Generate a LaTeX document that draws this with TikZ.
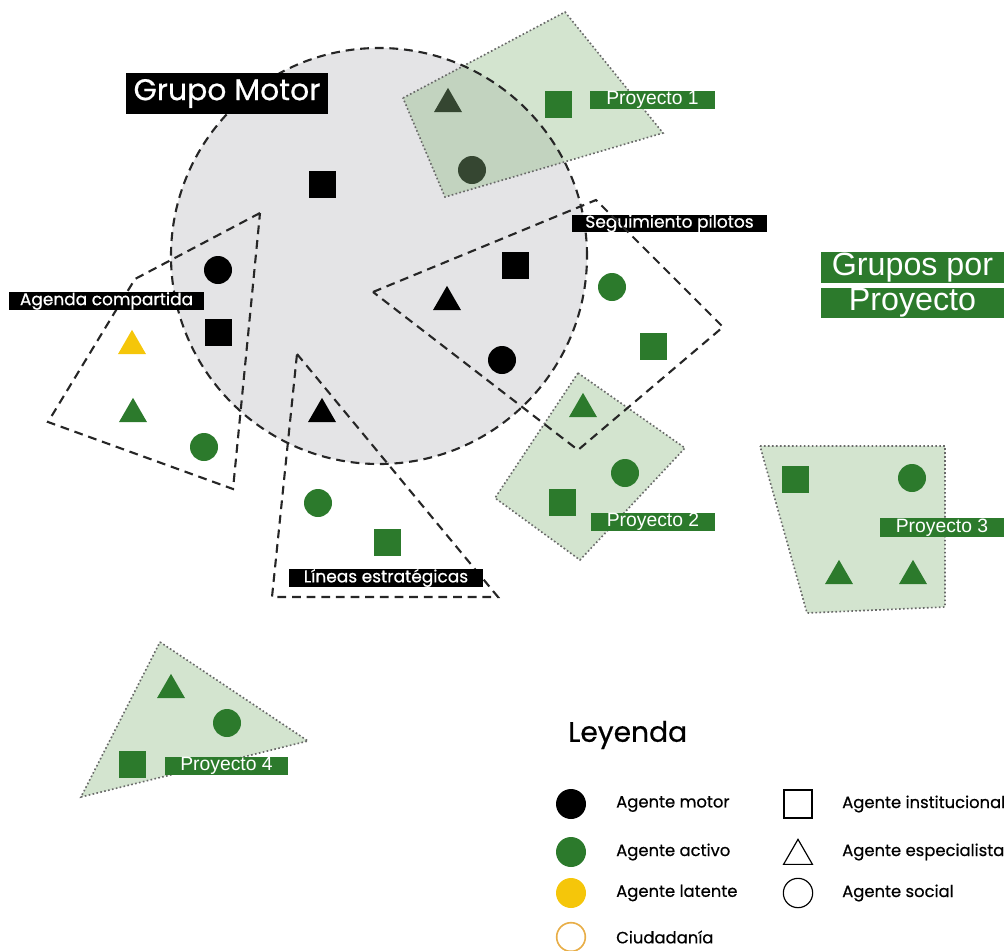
\documentclass[tikz,border=0pt]{standalone}
\usepackage{fontspec}
\setmainfont{Poppins}[FakeBold=0.6]
\newfontfamily\arialfont{Liberation Sans}
\usetikzlibrary{shapes.geometric}

\definecolor{gmgray}{RGB}{228,228,230}
\definecolor{activo}{RGB}{44,122,44}
\definecolor{latente}{RGB}{245,198,10}
\definecolor{ciudad}{RGB}{232,174,72}
\definecolor{proyfill}{RGB}{140,185,130}
\definecolor{puntos}{RGB}{105,105,105}

\tikzset{
  agente/.style={inner sep=0pt, outer sep=0pt, draw=none},
  cuad/.style={agente, rectangle, minimum size=0.81cm},
  circ/.style={agente, circle, minimum size=0.84cm},
  trian/.style={agente, regular polygon, regular polygon sides=3, minimum size=0.97cm},
  grupo/.style={draw=black!85, line width=1.8pt, dash pattern=on 7.5pt off 5pt, line join=miter},
  proy/.style={fill=proyfill, fill opacity=0.38, draw=puntos, line width=1.4pt, dash pattern=on 1.4pt off 2pt},
  lblk/.style={fill=black, text=white, inner sep=0pt, font=\fontsize{14.5}{14.5}\selectfont},
  lver/.style={fill=activo, text=white, inner sep=0pt, font=\arialfont\fontsize{16.5}{16.5}\selectfont},
  leyt/.style={anchor=west, inner sep=0pt, font=\fontsize{14}{14}\selectfont}
}

\begin{document}
\begin{tikzpicture}[x=0.03cm, y=-0.03cm]
\useasboundingbox (0,0) rectangle (1004,951);
\clip (0,0) rectangle (1004,951);

\fill[gmgray] (379,256) circle [radius=6.24cm]; % Grupo Motor area

% agents under Proyecto 1
\node[trian, fill=black] (p1t) at (448,104) {};
\node[circ, fill=black] (p1c) at (472,170) {};

% project groups
\draw[proy] (403,98) -- (565,12) -- (663,133) -- (445,197) -- cycle; % Proyecto 1
\draw[proy] (578,373) -- (685,448) -- (580,560) -- (495,498) -- cycle; % Proyecto 2
\draw[proy] (760,446) -- (945,446) -- (945,607) -- (807,613) -- cycle; % Proyecto 3
\draw[proy] (160,642) -- (308,741) -- (81,797) -- cycle; % Proyecto 4

% dashed groups
\draw[grupo] (379,256) circle [radius=6.24cm]; % Grupo Motor
\draw[grupo] (260,213) -- (135,279) -- (48,422) -- (233,489) -- cycle; % Agenda compartida
\draw[grupo] (297,354) -- (498,597) -- (272,597) -- cycle; % Lineas estrategicas

% Grupo Motor agents
\node[cuad, fill=black] (gmc) at (322,184) {};
\node[cuad, fill=activo] (p1q) at (558,104) {};

% Agenda compartida agents
\node[circ, fill=black] (acc) at (218,270) {};
\node[cuad, fill=black] (acq) at (218,332) {};
\node[trian, fill=latente] (act1) at (132,346) {};
\node[trian, fill=activo] (act2) at (133,414) {};
\node[circ, fill=activo] (acc2) at (204,447) {};

% Seguimiento pilotos agents
\node[cuad, fill=black] (spq) at (515,265) {};
\node[trian, fill=black] (spt) at (447,302) {};
\node[circ, fill=black] (spc) at (502,360) {};
\node[circ, fill=activo] (spc2) at (612,287) {};
\node[cuad, fill=activo] (spq2) at (653,346) {};

% Proyecto 2 agents
\node[trian, fill=activo] (p2t) at (583,409) {};
\node[circ, fill=activo] (p2c) at (625,473) {};
\node[cuad, fill=activo] (p2q) at (562,502) {};

% Proyecto 3 agents
\node[cuad, fill=activo] (p3q) at (795,479) {};
\node[circ, fill=activo] (p3c) at (912,478) {};
\node[trian, fill=activo] (p3t1) at (839,576) {};
\node[trian, fill=activo] (p3t2) at (913,576) {};

% Lineas estrategicas agents
\node[trian, fill=black] (let) at (322,414) {};
\node[circ, fill=activo] (lec) at (318,503) {};
\node[cuad, fill=activo] (leq) at (387,542) {};

% Proyecto 4 agents
\node[trian, fill=activo] (p4t) at (171,690) {};
\node[circ, fill=activo] (p4c) at (227,723) {};
\node[cuad, fill=activo] (p4q) at (132,764) {};

% labels
\node[lblk, minimum width=6.06cm, minimum height=1.23cm, font=\fontsize{25.5}{25.5}\selectfont] (gm) at (227,93.5) {Grupo Motor};
\node[lblk, minimum width=5.85cm, minimum height=0.54cm] (ac) at (106.5,301) {Agenda compartida};
\node[lblk, minimum width=5.85cm, minimum height=0.51cm] (sp) at (669.5,223.5) {Seguimiento pilotos};
\node[lblk, minimum width=5.82cm, minimum height=0.54cm] (le) at (386,578) {Líneas estratégicas};
\draw[grupo] (373,292) -- (596,200) -- (723,327) -- (578,450) -- cycle; % Seguimiento pilotos

\node[lver, minimum width=3.75cm, minimum height=0.54cm] (p1) at (652.5,100) {Proyecto 1};
\node[lver, minimum width=3.72cm, minimum height=0.54cm] (p2) at (653,522) {Proyecto 2};
\node[lver, minimum width=3.72cm, minimum height=0.57cm] (p3) at (942,527.5) {Proyecto 3};
\node[lver, minimum width=3.69cm, minimum height=0.54cm] (p4) at (226.5,766) {Proyecto 4};
\node[lver, minimum width=5.49cm, minimum height=0.93cm, font=\arialfont\fontsize{27.5}{27.5}\selectfont] (gp1) at (912.5,267.5) {Grupos por};
\node[lver, minimum width=5.49cm, minimum height=0.90cm, font=\arialfont\fontsize{27.5}{27.5}\selectfont] (gp2) at (912.5,303) {Proyecto};

% legend
\node[anchor=west, inner sep=0pt, font=\fontsize{24}{24}\selectfont] (ley) at (568,735) {Leyenda};
\node[circ, fill=black, minimum size=0.9cm] (lm) at (571,804) {};
\node[circ, fill=activo, minimum size=0.9cm] (la) at (571,852) {};
\node[circ, fill=latente, minimum size=0.9cm] (ll) at (571,893) {};
\node[circ, draw=ciudad, line width=1.4pt, minimum size=0.86cm] (lc) at (571,937) {};
\node[leyt] (tm) at (616,804) {Agente motor};
\node[leyt] (ta) at (616,852) {Agente activo};
\node[leyt] (tl) at (616,893) {Agente latente};
\node[leyt] (tc) at (616,937) {Ciudadanía};
\node[cuad, draw=black, line width=1pt, minimum size=0.84cm] (lq) at (798,804) {};
\node[trian, draw=black, line width=1pt, minimum size=1.0cm] (lt) at (798,856) {};
\node[circ, draw=black, line width=1pt, minimum size=0.88cm] (ls) at (798,893) {};
\node[leyt] (tq) at (842,804) {Agente institucional};
\node[leyt] (tt) at (842,852) {Agente especialista};
\node[leyt] (ts) at (842,893) {Agente social};

\end{tikzpicture}
\end{document}
